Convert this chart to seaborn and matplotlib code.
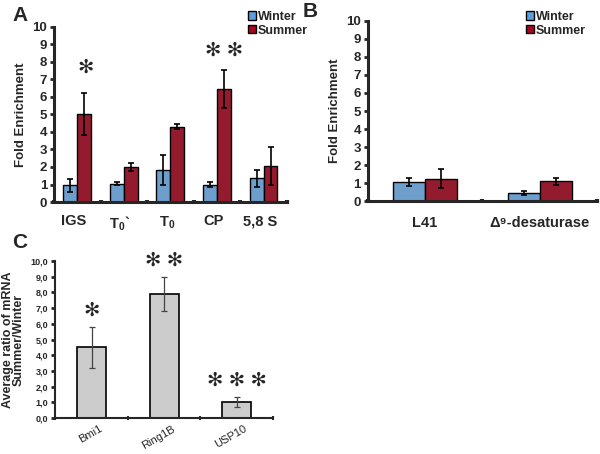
import numpy as np
import pandas as pd
import matplotlib
matplotlib.use("Agg")
import matplotlib.pyplot as plt
import seaborn as sns
from matplotlib.patches import Patch

# panel A data
a_genes = ["IGS", "T0`", "T0", "CP", "5,8 S"]
a_winter = [0.95, 1.05, 1.85, 1.0, 1.35]
a_winter_err = [0.35, 0.08, 0.85, 0.15, 0.5]
a_summer = [5.05, 2.0, 4.3, 6.45, 2.05]
a_summer_err = [1.2, 0.22, 0.15, 1.1, 1.1]
a_labels = ["IGS", r"T$_\mathbf{0}$`", r"T$_\mathbf{0}$", "CP", "5,8 S"]

# panel B data
b_genes = ["L41", "desat"]
b_winter = [1.05, 0.45]
b_winter_err = [0.22, 0.12]
b_summer = [1.25, 1.1]
b_summer_err = [0.52, 0.2]
b_labels = ["L41", "Δ⁹-desaturase"]

# panel C data
c_genes = ["Bmi1", "Ring1B", "USP10"]
c_ratio = [4.5, 7.9, 1.0]
c_err = [1.3, 1.1, 0.32]
c_stars = ["✻", "✻ ✻", "✻ ✻ ✻"]

blue = "#5d9fdc"
red = "#a8071f"
gray = "#cccccc"

sns.set_style("ticks")
plt.rcParams["font.family"] = ["Liberation Sans", "DejaVu Sans"]
plt.rcParams["font.weight"] = "bold"
plt.rcParams["mathtext.fontset"] = "custom"
plt.rcParams["mathtext.rm"] = "Liberation Sans:bold"
plt.rcParams["mathtext.bf"] = "Liberation Sans:bold"
plt.rcParams["mathtext.default"] = "bf"


def long_df(genes, w, s):
    return pd.DataFrame({
        "gene": genes * 2,
        "season": ["Winter"] * len(genes) + ["Summer"] * len(genes),
        "value": list(w) + list(s),
    })


def add_err(ax, errs):
    for p, e in zip(ax.patches, errs):
        x = p.get_x() + p.get_width() / 2
        ax.errorbar(x, p.get_height(), yerr=e, color="black", lw=1.2,
                    capsize=2.5, capthick=1.2)


def style_axis(ax, n, tick_fs):
    ax.set_ylim(0, 10)
    ax.set_xlim(-0.5, n - 0.5)
    ax.set_yticks(range(0, 11))
    ax.set_xticks(np.arange(-0.5, n, 1.0))
    sns.despine(ax=ax)
    for sp in ["left", "bottom"]:
        ax.spines[sp].set_linewidth(2.2)
    ax.tick_params(axis="y", width=2, length=3, labelsize=tick_fs, pad=2)
    ax.tick_params(axis="x", width=3, length=3, direction="inout",
                   labelbottom=False)


fig = plt.figure(figsize=(6, 4.54), dpi=100)

# ---- A ----
axA = fig.add_axes([0.09, 0.555, 0.388, 0.386])
dA = long_df(a_genes, a_winter, a_summer)
sns.barplot(data=dA, x="gene", y="value", hue="season", order=a_genes,
            hue_order=["Winter", "Summer"], palette=[blue, red],
            errorbar=None, width=0.6, edgecolor="black", linewidth=1,
            ax=axA, legend=False)
add_err(axA, a_winter_err + a_summer_err)
style_axis(axA, len(a_genes), 9.5)
for i, lab in enumerate(a_labels):
    axA.text(i - 0.08, -0.7, lab, ha="center", va="top", fontsize=10.5,
             fontweight="bold")
axA.set_ylabel("Fold Enrichment", fontsize=9.5, fontweight="bold")
axA.set_xlabel("")
axA.text(0.17, 7.65, "✻", ha="center", va="center", fontsize=14,
         fontweight="normal")
axA.text(3.15, 8.6, "✻ ✻", ha="center", va="center", fontsize=14,
         fontweight="normal")

# ---- B ----
axB = fig.add_axes([0.613, 0.557, 0.382, 0.397])
dB = long_df(b_genes, b_winter, b_summer)
sns.barplot(data=dB, x="gene", y="value", hue="season", order=b_genes,
            hue_order=["Winter", "Summer"], palette=[blue, red],
            errorbar=None, width=0.56, edgecolor="black", linewidth=1,
            ax=axB, legend=False)
add_err(axB, b_winter_err + b_summer_err)
style_axis(axB, len(b_genes), 9.5)
for i, lab in enumerate(b_labels):
    axB.text(i, -0.8, lab, ha="center", va="top", fontsize=10.5,
             fontweight="bold")
axB.set_ylabel("Fold Enrichment", fontsize=9.5, fontweight="bold")
axB.set_xlabel("")

# legends
handles = [Patch(facecolor=blue, edgecolor="black", label="Winter"),
           Patch(facecolor=red, edgecolor="black", label="Summer")]
for x0 in [0.403, 0.866]:
    fig.legend(handles=handles, loc="upper left",
               bbox_to_anchor=(x0, 0.99), frameon=False,
               handlelength=0.65, handleheight=0.65, handletextpad=0.15,
               labelspacing=0.15, borderpad=0,
               prop={"weight": "bold", "size": 9})

# ---- C ----
axC = fig.add_axes([0.092, 0.079, 0.363, 0.346])
dC = pd.DataFrame({"gene": c_genes, "ratio": c_ratio})
sns.barplot(data=dC, x="gene", y="ratio", color=gray, errorbar=None,
            width=0.4, edgecolor="black", linewidth=1.2, ax=axC)
for p, e in zip(axC.patches, c_err):
    x = p.get_x() + p.get_width() / 2
    axC.errorbar(x, p.get_height(), yerr=e, color="#444444", lw=0.9,
                 capsize=2.5, capthick=0.9)
style_axis(axC, len(c_genes), 6.5)
axC.set_yticks(range(0, 11))
axC.set_yticklabels([f"{v},0" for v in range(0, 11)])
axC.tick_params(axis="x", width=1.5, length=3)
axC.spines["left"].set_linewidth(1.5)
axC.spines["bottom"].set_linewidth(1.5)
for i, g in enumerate(c_genes):
    axC.text(i + 0.1, -0.35, g, ha="right", va="top", rotation=30,
             fontsize=8, fontweight="normal", rotation_mode="anchor")
axC.set_ylabel("Average ratio of mRNA\nSummer/Winter", fontsize=9,
               fontweight="bold", linespacing=0.95)
axC.set_xlabel("")
for i, (s, v, e) in enumerate(zip(c_stars, c_ratio, c_err)):
    axC.text(i, v + e + 1.0, s, ha="center", va="center", fontsize=14,
             fontweight="normal")

fig.text(0.02, 0.965, "A", fontsize=15, fontweight="bold", va="center")
fig.text(0.505, 0.975, "B", fontsize=15, fontweight="bold", va="center")
fig.text(0.02, 0.465, "C", fontsize=15, fontweight="bold", va="center")

fig.savefig("out.png", dpi=100)
